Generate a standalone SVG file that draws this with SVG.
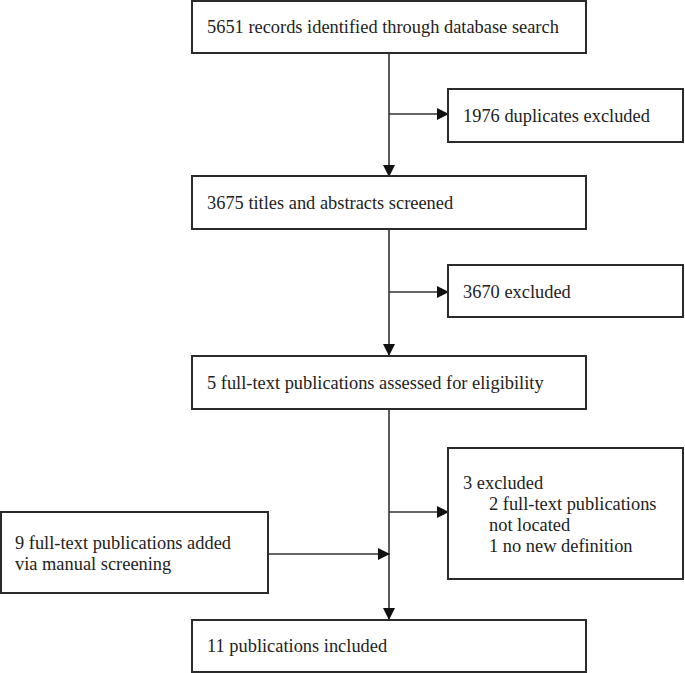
<svg xmlns="http://www.w3.org/2000/svg" width="685" height="673" viewBox="0 0 685 673">
<style>
.box{fill:#fff;stroke:#2b2b2b;stroke-width:2}
.t{font-family:'Liberation Serif','Times New Roman',Times,serif;font-size:18.4px;fill:#222}
.c{stroke:#333;stroke-width:1.6;fill:none}
</style>
<defs>
<marker id="ah" markerWidth="12" markerHeight="12" refX="11" refY="6" orient="auto" markerUnits="userSpaceOnUse">
<path d="M0,0 L12,6 L0,12 Z" fill="#111"/>
</marker>
</defs>
<rect width="685" height="673" fill="#fff"/>
<g id="connectors">
<line class="c" x1="389" y1="53" x2="389" y2="176" marker-end="url(#ah)"/>
<line class="c" x1="389" y1="114" x2="448" y2="114" marker-end="url(#ah)"/>
<line class="c" x1="389" y1="229" x2="389" y2="355" marker-end="url(#ah)"/>
<line class="c" x1="389" y1="292" x2="448" y2="292" marker-end="url(#ah)"/>
<line class="c" x1="389" y1="409" x2="389" y2="619" marker-end="url(#ah)"/>
<line class="c" x1="389" y1="512" x2="448" y2="512" marker-end="url(#ah)"/>
<line class="c" x1="268" y1="554" x2="389" y2="554" marker-end="url(#ah)"/>
</g>
<g id="n1"><rect class="box" x="192" y="1" width="394" height="52"/><text class="t" x="207" y="33">5651 records identified through database search</text></g>
<g id="n2"><rect class="box" x="448" y="89" width="235" height="53"/><text class="t" x="463" y="122">1976 duplicates excluded</text></g>
<g id="n3"><rect class="box" x="192" y="176" width="394" height="53"/><text class="t" x="207" y="209">3675 titles and abstracts screened</text></g>
<g id="n4"><rect class="box" x="448" y="265" width="235" height="52"/><text class="t" x="463" y="298">3670 excluded</text></g>
<g id="n5"><rect class="box" x="192" y="356" width="394" height="53"/><text class="t" x="207" y="389">5 full-text publications assessed for eligibility</text></g>
<g id="n6"><rect class="box" x="448" y="448" width="235" height="131"/>
<text class="t" x="463" y="489">3 excluded</text>
<text class="t" x="489" y="510">2 full-text publications</text>
<text class="t" x="489" y="531">not located</text>
<text class="t" x="489" y="552">1 no new definition</text></g>
<g id="n7"><rect class="box" x="1" y="512" width="267" height="81"/>
<text class="t" x="15" y="549">9 full-text publications added</text>
<text class="t" x="15" y="570">via manual screening</text></g>
<g id="n8"><rect class="box" x="192" y="620" width="394" height="52"/><text class="t" x="207" y="652">11 publications included</text></g>
</svg>
